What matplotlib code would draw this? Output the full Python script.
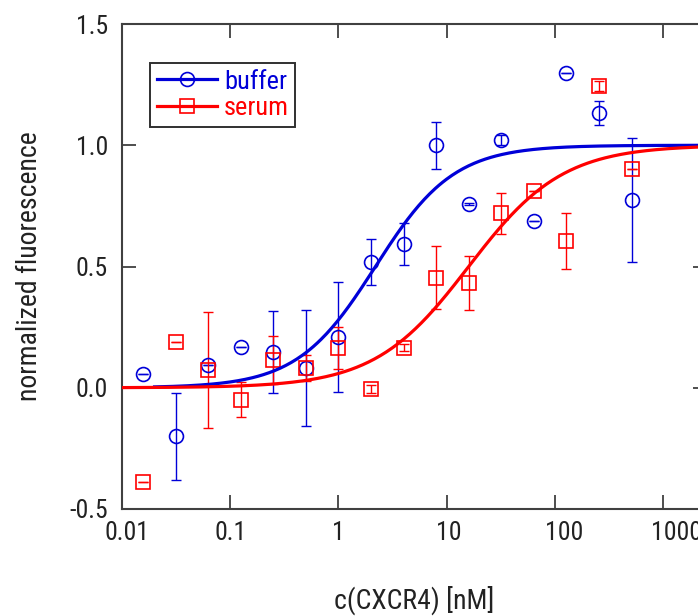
import numpy as np
import matplotlib
matplotlib.use("Agg")
import matplotlib.pyplot as plt
from matplotlib import font_manager as fm
from matplotlib.transforms import ScaledTranslation

# ---------------- data ----------------
conc = [0.015625, 0.03125, 0.0625, 0.125, 0.25, 0.5, 1, 2, 4, 8, 16, 32, 64, 128, 256, 512]

buffer_y = [0.057, -0.20, 0.094, 0.168, 0.147, 0.082, 0.209, 0.519, 0.593, 1.00,
            0.758, 1.022, 0.688, 1.298, 1.133, 0.774]
buffer_err = [0.0, 0.18, 0.0, 0.0, 0.17, 0.24, 0.226, 0.095, 0.087, 0.097,
              0.005, 0.02, 0.0, 0.0, 0.048, 0.255]

serum_y = [-0.389, 0.189, 0.073, -0.05, 0.115, 0.082, 0.164, -0.005, 0.165, 0.453,
           0.432, 0.72, 0.811, 0.605, 1.244, 0.902]
serum_err = [0.0, 0.0, 0.24, 0.072, 0.10, 0.055, 0.086, 0.018, 0.015, 0.13,
             0.11, 0.085, 0.0, 0.115, 0.02, 0.0]

# fitted Hill-curve parameters (bottom 0, top 1)
buffer_ec50, buffer_hill = 2.2, 1.2
serum_ec50, serum_hill = 16.0, 1.0

series_names = ["buffer", "serum"]
x_ticks = [0.01, 0.1, 1, 10, 100, 1000]
x_ticklabels = ["0.01", "0.1", "1", "10", "100", "1000"]
y_ticks = [-0.5, 0.0, 0.5, 1.0, 1.5]
y_ticklabels = ["-0.5", "0.0", "0.5", "1.0", "1.5"]

# ---------------- fonts ----------------
entries = fm.fontManager.ttflist
def has(name, stretch=None):
    return any(e.name == name and (stretch is None or str(e.stretch) == stretch) for e in entries)

fam, st = "Roboto", "normal"
if has("Roboto Condensed"):
    fam, st = "Roboto Condensed", "normal"
elif has("Roboto", "condensed"):
    fam, st = "Roboto", "condensed"
elif has("Liberation Sans Narrow"):
    fam, st = "Liberation Sans Narrow", "normal"
elif has("DejaVu Sans", "condensed"):
    fam, st = "DejaVu Sans", "condensed"

plt.rcParams["font.family"] = [fam, "DejaVu Sans"]
plt.rcParams["font.stretch"] = st
plt.rcParams["axes.unicode_minus"] = False

BLUE = "#0000d8"
RED = "#ff0000"
TXT = "#222222"
SP = "#404040"

W, H = 698, 616
fig = plt.figure(figsize=(W / 100, H / 100), dpi=100)
# axes: left spine x=122, right spine ~707 (cropped), top y=24, bottom y=509
left, right, top, bottom = 122, 707, 24, 509
ax = fig.add_axes([left / W, 1 - bottom / H, (right - left) / W, (bottom - top) / H])

xmax = 10 ** (3 + (right - 663) / 108.3)
ax.set_xscale("log")
ax.set_xlim(0.01, xmax)
ax.set_ylim(-0.5, 1.5)

x_b = np.logspace(np.log10(0.02), np.log10(xmax), 300)
x_s = np.logspace(-2, np.log10(xmax), 300)
fit_b = (x_b / buffer_ec50) ** buffer_hill / (1 + (x_b / buffer_ec50) ** buffer_hill)
fit_s = (x_s / serum_ec50) ** serum_hill / (1 + (x_s / serum_ec50) ** serum_hill)

ax.errorbar(conc, buffer_y, yerr=buffer_err, fmt="none", ecolor=BLUE,
            elinewidth=1.0, capsize=3.5, capthick=1.0, zorder=2)
ax.plot(conc, buffer_y, "o", mfc="none", mec=BLUE, ms=10, mew=1.2, zorder=3)
ax.plot(x_b, fit_b, "-", color=BLUE, lw=2.3, zorder=4)

ax.errorbar(conc, serum_y, yerr=serum_err, fmt="none", ecolor=RED,
            elinewidth=1.0, capsize=3.5, capthick=1.0, zorder=2)
ax.plot(conc, serum_y, "s", mfc="none", mec=RED, ms=9.5, mew=1.2, zorder=3)
ax.plot(x_s, fit_s, "-", color=RED, lw=2.3, zorder=5)

# legend handles (line + marker)
hb, = ax.plot([], [], "-o", color=BLUE, lw=2.3, mfc="none", mec=BLUE, ms=10, mew=1.2)
hs, = ax.plot([], [], "-s", color=RED, lw=2.3, mfc="none", mec=RED, ms=9.5, mew=1.2)
leg = ax.legend([hb, hs], series_names, loc="upper left",
                bbox_to_anchor=((150 - left) / (right - left), 1 - (63 - top) / (bottom - top)),
                borderaxespad=0, fontsize=19, fancybox=False, framealpha=1,
                handlelength=2.3, handletextpad=0.25, borderpad=0.25, labelspacing=0.1,
                edgecolor="#303030")
leg.get_frame().set_linewidth(1.4)
for t, c in zip(leg.get_texts(), [BLUE, RED]):
    t.set_color(c)

ax.set_xticks(x_ticks)
ax.set_xticklabels(x_ticklabels)
ax.minorticks_off()
ax.set_yticks(y_ticks)
ax.set_yticklabels(y_ticklabels)
ax.tick_params(axis="both", which="both", direction="in", length=10, width=1.3,
               colors=SP, labelcolor=TXT, labelsize=18.5, top=True, right=True)
ax.tick_params(axis="x", pad=9)
ax.tick_params(axis="y", pad=10)
for s in ax.spines.values():
    s.set_color(SP)
    s.set_linewidth(1.5)

# small horizontal offsets of the x tick labels as in the reference (pixels)
label_dx = [5, 0, 0, 2, 9, 13]
for lab, dx in zip(ax.get_xticklabels(), label_dx):
    lab.set_transform(lab.get_transform() + ScaledTranslation(dx / 100, 0, fig.dpi_scale_trans))

ax.set_xlabel("c(CXCR4) [nM]", fontsize=20, color=TXT, labelpad=29)
ax.set_ylabel("normalized fluorescence", fontsize=20, color=TXT, labelpad=19)

fig.savefig("out.png", dpi=100)
